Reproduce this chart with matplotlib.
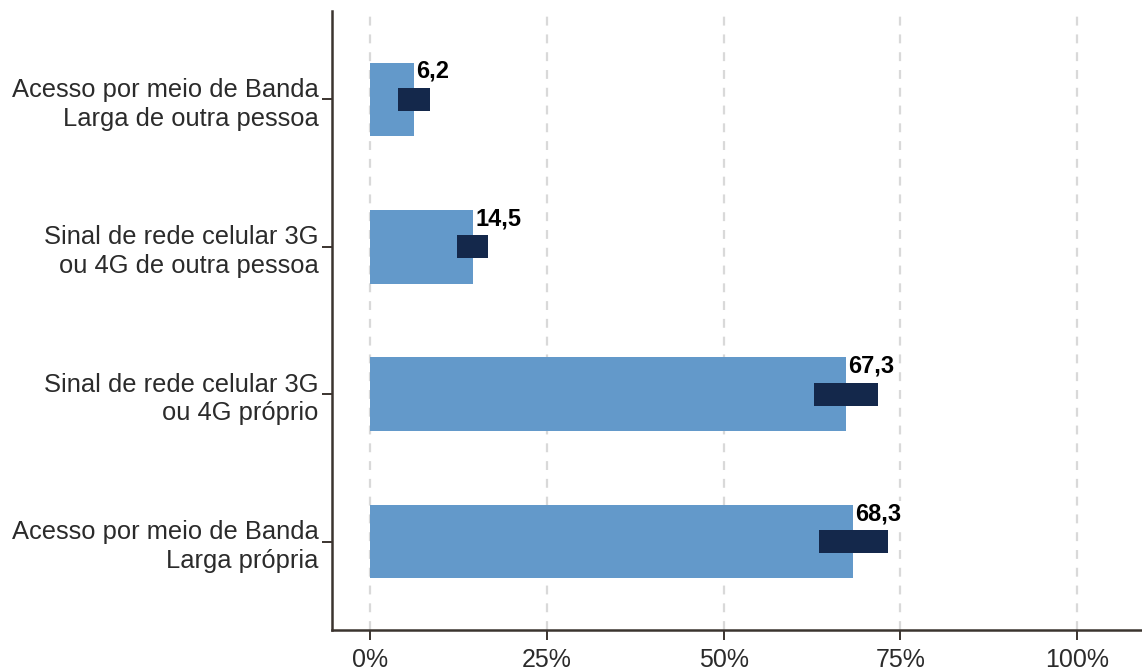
import matplotlib

matplotlib.use("Agg")

import matplotlib.pyplot as plt

categories = [
    "Acesso por meio de Banda\nLarga própria",
    "Sinal de rede celular 3G\nou 4G próprio",
    "Sinal de rede celular 3G\nou 4G de outra pessoa",
    "Acesso por meio de Banda\nLarga de outra pessoa",
]
values = [68.3, 67.3, 14.5, 6.2]
ci_low = [63.5, 62.8, 12.3, 3.9]
ci_high = [73.3, 71.8, 16.7, 8.4]
xticks = [0, 25, 50, 75, 100]

BAR_COLOR = "#6399CA"
CI_COLOR = "#14284B"
AXIS_COLOR = "#3b342f"

plt.rcParams["font.family"] = ["Liberation Sans", "DejaVu Sans"]

fig = plt.figure(figsize=(11.42, 6.71), dpi=100)
ax = fig.add_axes([332 / 1142, 41 / 671, 1 - 332 / 1142, 619 / 671])

ypos = list(range(len(categories)))
for x in xticks:
    ax.axvline(x, color="#d9d9d9", lw=1.6, ls=(0, (4, 4)), zorder=0)

ax.barh(ypos, values, height=0.5, color=BAR_COLOR, zorder=2)
widths = [h - l for l, h in zip(ci_low, ci_high)]
ax.barh(ypos, widths, left=ci_low, height=0.155, color=CI_COLOR, zorder=3)

for y, v in zip(ypos, values):
    ax.text(v + 0.35, y + 0.19, f"{v:.1f}".replace(".", ","), ha="left", va="center",
            fontsize=17, fontweight="bold", color="black", zorder=4,
            bbox=dict(facecolor="white", edgecolor="none", pad=0.5))

ax.set_xlim(-5.4, 109.2)
ax.set_ylim(-0.6, 3.6)
ax.set_xticks(xticks)
ax.set_xticklabels([f"{x}%" for x in xticks])
ax.set_yticks(ypos)
ax.set_yticklabels(categories, fontsize=18.4, color="#2b2b2b", linespacing=1.25)
ax.tick_params(axis="x", labelsize=18, labelcolor="#2b2b2b", length=7, width=1.4,
               color=AXIS_COLOR, pad=6)
ax.tick_params(axis="y", length=7, width=1.4, color=AXIS_COLOR, pad=2.5)
for side in ["top", "right"]:
    ax.spines[side].set_visible(False)
for side in ["left", "bottom"]:
    ax.spines[side].set_color(AXIS_COLOR)
    ax.spines[side].set_linewidth(1.8)

fig.savefig("out.png", dpi=100)
